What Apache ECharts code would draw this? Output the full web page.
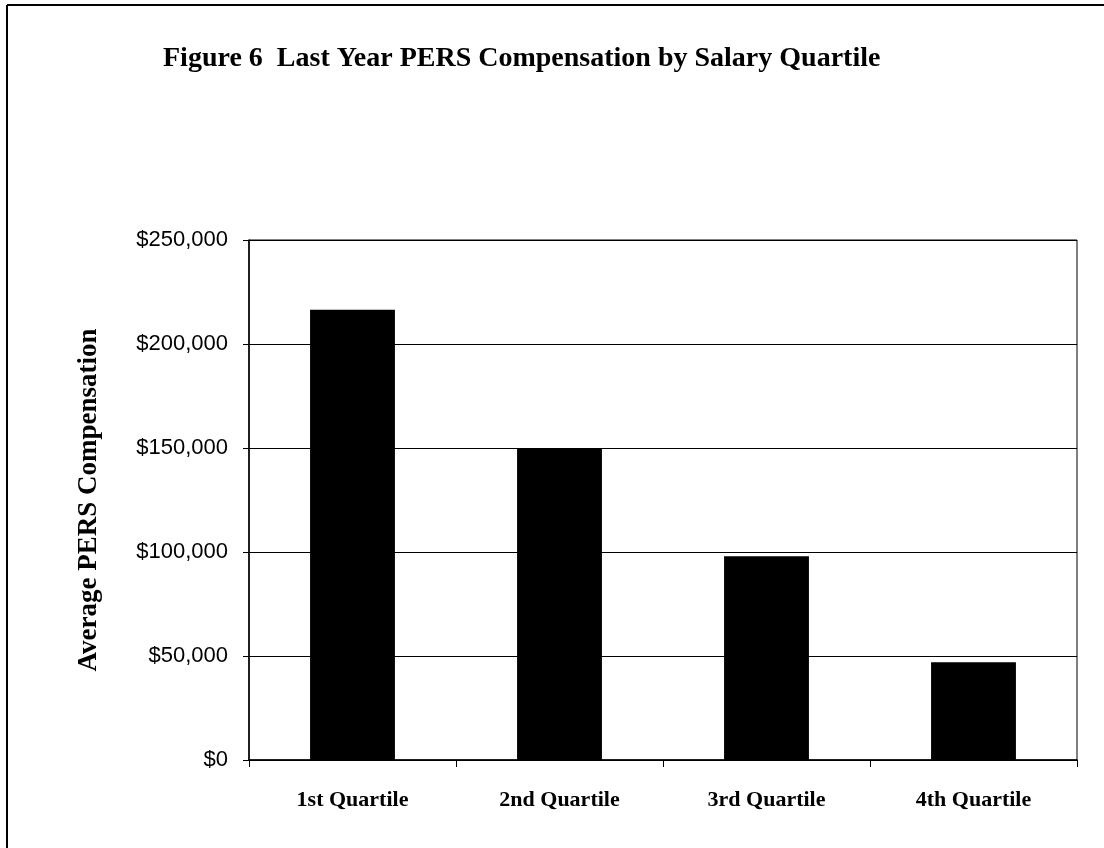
<!DOCTYPE html>
<html>
<head>
<meta charset="utf-8">
<script src="https://cdn.jsdelivr.net/npm/echarts@6/dist/echarts.min.js"></script>
<style>
html,body{margin:0;padding:0;background:#fff;}
#chart{width:1104px;height:848px;}
</style>
</head>
<body>
<div id="chart"></div>
<script>
const titleText = "Figure 6  Last Year PERS Compensation by Salary Quartile";
const yAxisName = "Average PERS Compensation";
const categories = ["1st Quartile", "2nd Quartile", "3rd Quartile", "4th Quartile"];
const values = [216500, 149500, 98000, 47000];
const yMin = 0, yMax = 250000, yStep = 50000;

const chart = echarts.init(document.getElementById('chart'), null, {renderer: 'canvas'});
chart.setOption({
  backgroundColor: '#ffffff',
  animation: false,
  title: {
    text: titleText,
    left: 158,
    top: 40,
    textStyle: {fontFamily: 'Liberation Serif', fontWeight: 'bold', fontSize: 28, color: '#000'}
  },
  graphic: [
    {type: 'line', shape: {x1: 7, y1: 5, x2: 1104, y2: 5}, style: {stroke: '#000', lineWidth: 2}},
    {type: 'line', shape: {x1: 7, y1: 5, x2: 7, y2: 848}, style: {stroke: '#000', lineWidth: 2}}
  ],
  grid: {left: 249, right: 27, top: 240, bottom: 88, show: true, borderColor: '#000', borderWidth: 1},
  xAxis: {
    type: 'category',
    data: categories,
    boundaryGap: true,
    axisLine: {lineStyle: {color: '#000', width: 1.5}},
    axisTick: {show: true, inside: false, length: 7, alignWithLabel: false, lineStyle: {color: '#000'}},
    axisLabel: {margin: 29, color: '#000', fontFamily: 'Liberation Serif', fontWeight: 'bold', fontSize: 22}
  },
  yAxis: {
    type: 'value',
    min: yMin, max: yMax, interval: yStep,
    name: yAxisName,
    nameLocation: 'middle',
    nameRotate: 90,
    nameGap: 146,
    nameTextStyle: {fontFamily: 'Liberation Serif', fontWeight: 'bold', fontSize: 27, color: '#000'},
    axisLine: {show: true, lineStyle: {color: '#000', width: 1.5}},
    axisTick: {show: true, length: 6, lineStyle: {color: '#000'}},
    axisLabel: {
      margin: 21, color: '#000', fontFamily: 'Liberation Sans', fontSize: 22,
      formatter: v => '$' + v.toLocaleString('en-US')
    },
    splitLine: {show: true, lineStyle: {color: '#000', width: 1}}
  },
  series: [{
    type: 'bar',
    data: values,
    barWidth: '41%',
    itemStyle: {color: '#000'}
  }]
});
</script>
</body>
</html>
